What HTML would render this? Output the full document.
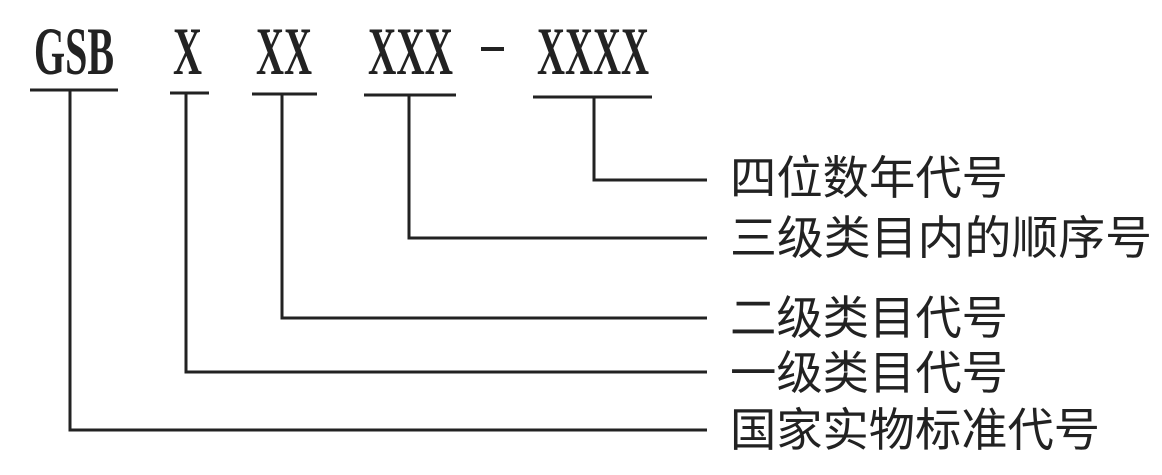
<!DOCTYPE html>
<html><head><meta charset="utf-8"><style>
html,body{margin:0;padding:0;background:#fff;}
svg{display:block}
</style></head><body>
<svg width="1162" height="475" viewBox="0 0 1162 475" xmlns="http://www.w3.org/2000/svg">
<g font-family="Liberation Serif, serif" font-weight="bold" font-size="68" fill="#222">
<text x="34" y="74" textLength="80" lengthAdjust="spacingAndGlyphs">GSB</text>
<text x="173" y="74" textLength="29" lengthAdjust="spacingAndGlyphs">X</text>
<text x="256" y="74" textLength="56" lengthAdjust="spacingAndGlyphs">XX</text>
<text x="368" y="74" textLength="85" lengthAdjust="spacingAndGlyphs">XXX</text>
<text x="537" y="74" textLength="112" lengthAdjust="spacingAndGlyphs">XXXX</text>
</g>
<rect x="481" y="47" width="23" height="4" fill="#222"/>
<g stroke="#222" stroke-width="3" fill="none">
<line x1="30" y1="90" x2="118" y2="90"/>
<line x1="170" y1="93" x2="209" y2="93"/>
<line x1="252" y1="94" x2="317" y2="94"/>
<line x1="364" y1="95" x2="456" y2="95"/>
<line x1="533" y1="97" x2="652" y2="97"/>
<polyline points="594,97 594,180 707,180"/>
<polyline points="409,95 409,238 707,238"/>
<polyline points="282,94 282,318 707,318"/>
<polyline points="186,93 186,372 707,372"/>
<polyline points="70,90 70,430 707,430"/>
</g>
<g font-family="Liberation Sans, Noto Sans CJK SC, sans-serif" font-size="46" fill="#222" dominant-baseline="central">
<text x="730" y="178" textLength="278" lengthAdjust="spacingAndGlyphs">四位数年代号</text>
<text x="730" y="238" textLength="422" lengthAdjust="spacingAndGlyphs">三级类目内的顺序号</text>
<text x="730" y="318" textLength="278" lengthAdjust="spacingAndGlyphs">二级类目代号</text>
<text x="730" y="373" textLength="278" lengthAdjust="spacingAndGlyphs">一级类目代号</text>
<text x="730" y="430" textLength="370" lengthAdjust="spacingAndGlyphs">国家实物标准代号</text>
</g>
</svg>
</body></html>
